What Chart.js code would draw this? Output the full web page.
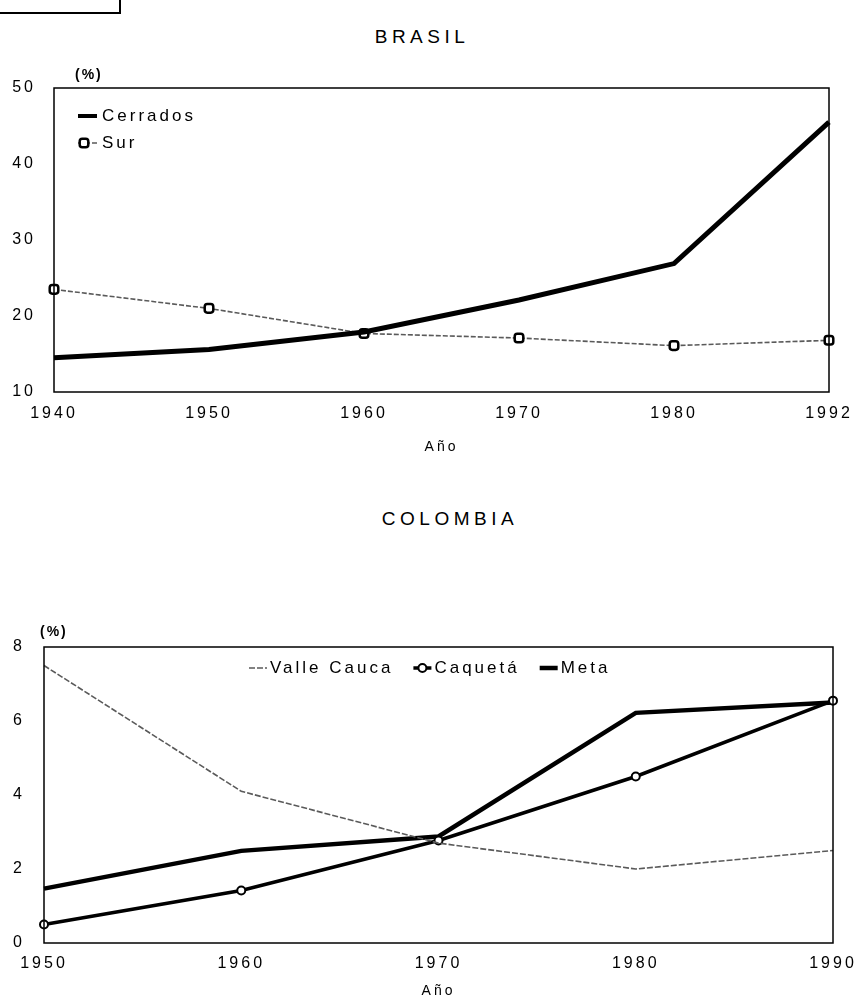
<!DOCTYPE html>
<html>
<head>
<meta charset="utf-8">
<script src="https://cdn.jsdelivr.net/npm/chart.js@4/dist/chart.umd.min.js"></script>
<style>
  html, body { margin: 0; padding: 0; background: #fff; }
  body { width: 859px; height: 1004px; position: relative; overflow: hidden; font-family: "Liberation Sans", Arial, sans-serif; }
  .box { position: absolute; left: -2px; top: -2px; width: 119px; height: 12px; border: 2px solid #000; }
  .title { position: absolute; font-size: 19px; letter-spacing: 4.5px; color: #000; text-align: center; width: 300px; }
  canvas { position: absolute; left: 0; }
</style>
</head>
<body>
<div class="box"></div>
<div class="title" id="t1" style="left:272px; top:26px;">BRASIL</div>
<div class="title" id="t2" style="left:300px; top:508px;">COLOMBIA</div>
<canvas id="c1" width="859" height="460" style="top:0;"></canvas>
<canvas id="c2" width="859" height="524" style="top:480px;"></canvas>
<script>
// ---- Data ----
const brasilYears = ['1940', '1950', '1960', '1970', '1980', '1992'];
const cerrados = [14.5, 15.6, 17.9, 22.1, 26.9, 45.5];
const sur = [23.5, 21.0, 17.7, 17.1, 16.1, 16.8];

const colombiaYears = ['1950', '1960', '1970', '1980', '1990'];
const valleCauca = [7.5, 4.1, 2.7, 2.0, 2.5];
const caqueta = [0.5, 1.42, 2.77, 4.5, 6.55];
const meta = [1.47, 2.49, 2.88, 6.22, 6.5];

const brasilTicks = [10, 20, 30, 40, 50];
const colombiaTicks = [0, 2, 4, 6, 8];

// ---- Setup ----
Chart.defaults.font.family = '"Liberation Sans", Arial, sans-serif';
Chart.defaults.color = '#000';
Chart.defaults.devicePixelRatio = 1;

const spacingPlugin = {
  id: 'spacing',
  beforeLayout(c) { c.ctx.letterSpacing = '3px'; },
  beforeDraw(c) { c.ctx.letterSpacing = '3px'; }
};

const framePlugin = {
  id: 'frame',
  afterDatasetsDraw(c) {
    const a = c.chartArea, ctx = c.ctx;
    ctx.save();
    ctx.strokeStyle = '#000';
    ctx.lineWidth = 1.5;
    ctx.strokeRect(a.left, a.top, a.right - a.left, a.bottom - a.top);
    ctx.restore();
  }
};

const unitPlugin = {
  id: 'unit',
  afterDraw(c, args, opts) {
    const a = c.chartArea, ctx = c.ctx;
    ctx.save();
    ctx.letterSpacing = '2px';
    ctx.font = 'bold 14px "Liberation Sans", Arial, sans-serif';
    ctx.fillStyle = '#000';
    ctx.textBaseline = 'middle';
    ctx.textAlign = 'left';
    ctx.fillText(opts.text, a.left + opts.dx, a.top + opts.dy);
    ctx.restore();
  }
};

function drawSample(ctx, ds, x, y, w) {
  ctx.save();
  ctx.strokeStyle = ds.borderColor;
  ctx.lineWidth = ds.legendLineWidth || ds.borderWidth;
  ctx.setLineDash(ds.borderDash || []);
  ctx.beginPath();
  ctx.moveTo(x, y);
  ctx.lineTo(x + w, y);
  ctx.stroke();
  ctx.setLineDash([]);
  if (ds.pointRadius > 0) {
    ctx.fillStyle = ds.pointBackgroundColor;
    ctx.strokeStyle = ds.pointBorderColor;
    ctx.lineWidth = ds.pointBorderWidth;
    Chart.helpers.drawPoint(ctx, { pointStyle: ds.pointStyle, radius: ds.pointRadius, borderWidth: ds.pointBorderWidth, rotation: 0 }, x + (ds.legendPointAt || w / 2), y);
  }
  ctx.restore();
}

const customLegend = {
  id: 'customLegend',
  afterDraw(c, args, opts) {
    const ctx = c.ctx;
    ctx.save();
    ctx.letterSpacing = opts.spacing + 'px';
    ctx.font = opts.fontSize + 'px "Liberation Sans", Arial, sans-serif';
    ctx.fillStyle = '#000';
    ctx.textBaseline = 'middle';
    ctx.textAlign = 'left';
    let x = opts.x, y = opts.y;
    c.data.datasets.forEach((ds) => {
      drawSample(ctx, ds, x, y, opts.sampleWidth);
      ctx.fillText(ds.label, x + opts.sampleWidth + opts.textGap, y);
      if (opts.vertical) {
        y += opts.rowGap;
      } else {
        x += opts.sampleWidth + opts.textGap + ctx.measureText(ds.label).width + opts.itemGap;
      }
    });
    ctx.restore();
  }
};

function makeOptions(cfg) {
  return {
    responsive: false,
    animation: false,
    events: [],
    layout: { padding: { top: cfg.top, right: cfg.right, bottom: 0, left: 0 } },
    plugins: {
      legend: { display: false },
      tooltip: { enabled: false },
      unit: cfg.unit,
      customLegend: cfg.legend
    },
    scales: {
      x: {
        type: 'category',
        offset: false,
        grid: { display: false, drawTicks: false },
        border: { display: false },
        ticks: { font: { size: 16 }, padding: cfg.xPad, maxRotation: 0, autoSkip: false },
        title: { display: true, text: 'Año', font: { size: 14 }, padding: { top: 0, bottom: 4 } },
        afterFit(s) { s.height = cfg.xHeight; s.paddingLeft = 0; s.paddingRight = 0; }
      },
      y: {
        min: cfg.min, max: cfg.max,
        grid: { display: false, drawTicks: false },
        border: { display: false },
        afterBuildTicks(s) { s.ticks = cfg.ticks.map(v => ({ value: v })); },
        ticks: { font: { size: 16 }, padding: cfg.yPad },
        afterFit(s) { s.width = cfg.yWidth; }
      }
    }
  };
}

// ---- Brasil ----
new Chart(document.getElementById('c1'), {
  type: 'line',
  data: {
    labels: brasilYears,
    datasets: [
      {
        label: 'Cerrados', data: cerrados,
        borderColor: '#000', borderWidth: 5, pointRadius: 0, tension: 0, clip: false,
        legendLineWidth: 4
      },
      {
        label: 'Sur', data: sur,
        borderColor: '#5a5a5a', borderWidth: 1.6, borderDash: [5, 2],
        pointStyle: 'rectRounded', pointRadius: 5, pointBorderWidth: 2.5,
        pointBorderColor: '#000', pointBackgroundColor: '#fff', tension: 0, clip: false,
        legendPointAt: 6
      }
    ]
  },
  options: makeOptions({
    top: 88, right: 30, min: 10, max: 50, ticks: brasilTicks,
    yWidth: 54, yPad: 18, xHeight: 68, xPad: 12,
    unit: { text: '(%)', dx: 21, dy: -13 },
    legend: { x: 78, y: 116, vertical: true, rowGap: 27, sampleWidth: 19, textGap: 5, itemGap: 0, fontSize: 17, spacing: 3 }
  }),
  plugins: [spacingPlugin, framePlugin, unitPlugin, customLegend]
});

// ---- Colombia ----
new Chart(document.getElementById('c2'), {
  type: 'line',
  data: {
    labels: colombiaYears,
    datasets: [
      {
        label: 'Valle Cauca', data: valleCauca,
        borderColor: '#5a5a5a', borderWidth: 1.6, borderDash: [6, 2],
        pointRadius: 0, tension: 0, clip: false
      },
      {
        label: 'Caquetá', data: caqueta,
        borderColor: '#000', borderWidth: 3.5,
        pointStyle: 'circle', pointRadius: 4, pointBorderWidth: 2,
        pointBorderColor: '#000', pointBackgroundColor: '#fff', tension: 0, clip: false
      },
      {
        label: 'Meta', data: meta,
        borderColor: '#000', borderWidth: 4.5, pointRadius: 0, tension: 0, clip: false
      }
    ]
  },
  options: makeOptions({
    top: 167, right: 26, min: 0, max: 8, ticks: colombiaTicks,
    yWidth: 44, yPad: 19, xHeight: 61, xPad: 11,
    unit: { text: '(%)', dx: -4, dy: -15 },
    legend: { x: 249, y: 188, vertical: false, rowGap: 0, sampleWidth: 18, textGap: 3, itemGap: 20, fontSize: 17, spacing: 3 }
  }),
  plugins: [spacingPlugin, framePlugin, unitPlugin, customLegend]
});
</script>
</body>
</html>
